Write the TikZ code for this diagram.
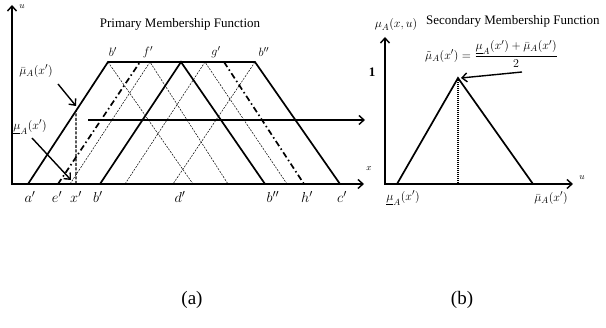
\documentclass[tikz,border=0pt]{standalone}
\usepackage{fontspec}
\setmainfont{Liberation Serif}
\usetikzlibrary{arrows.meta,calc}
\begin{document}
\begin{tikzpicture}[x=1pt,y=-1pt,
  axes/.style={line width=1.4pt,{Straight Barb[length=5pt,width=9pt,line width=1.4pt]}-{Straight Barb[length=5pt,width=9pt,line width=1.4pt]}},
  thk/.style={line width=1.7pt, line join=miter},
  thn/.style={line width=0.5pt, dash pattern=on 2pt off 1.2pt},
  dd/.style={line width=1.7pt, dash pattern=on 6pt off 3pt on 1.5pt off 3pt},
  lbl/.style={font=\fontsize{13}{15}\selectfont, inner sep=1pt},
  blbl/.style={font=\fontsize{15}{17}\selectfont, inner sep=1pt},
  sml/.style={font=\fontsize{9}{10}\selectfont, inner sep=1pt},
  ttl/.style={font=\fontsize{13}{15}\selectfont, inner sep=0pt},
  captxt/.style={font=\fontsize{19}{22}\selectfont, inner sep=0pt},
  ptr/.style={line width=1.4pt,-{Straight Barb[length=5pt,width=9pt,line width=1.4pt]}}]
\useasboundingbox (0,0) rectangle (606,328);
% ---------- left plot ----------
\coordinate (O) at (12,184);
\coordinate (Ytop) at (12,5);
\coordinate (Xend) at (364,184);
\draw[axes] (Ytop) -- (O) -- (Xend);
\node[sml] (ulab) at (22,7) {$u$};
\node[sml] (xlab) at (369,169) {$x$};
\node[ttl] (title1) at (180,24) {Primary Membership Function};
% base points
\coordinate (ap) at (28,184);
\coordinate (ep) at (58,184);
\coordinate (xp) at (76,184);
\coordinate (bp) at (100,184);
\coordinate (bpp) at (265,184);
\coordinate (hp) at (304,184);
\coordinate (cp) at (340,184);
% top points
\coordinate (TL) at (108,62);
\coordinate (F) at (140,62);
\coordinate (P1) at (150,62);
\coordinate (A) at (181,62);
\coordinate (P2) at (205,62);
\coordinate (G) at (224,62);
\coordinate (TR) at (255,62);
% thin dashed triangles
\draw[thn] (TL) -- (193,184);
\draw[thn] (TR) -- (173,184);
\draw[thn] (70,184) -- (P1) -- (228,184);
\draw[thn] (125,184) -- (P2) -- (287,184);
% dash-dot sides
\draw[dd] (ep) -- (F);
\draw[dd] (G) -- (hp);
% thick trapezoid and triangle
\draw[thk] (ap) -- (TL) -- (TR) -- (cp);
\draw[thk] (bp) -- (A) -- (bpp);
% vertical dashed at x'
\coordinate (xtop) at ($(ap)!0.6!(TL)$);
\draw[line width=1.3pt, dash pattern=on 3pt off 1.5pt] (xp) -- (xtop);
% horizontal arrow
\coordinate (hs) at (88,120);
\coordinate (he) at (365,120);
\draw[ptr] (hs) -- (he);
% labels
\node[lbl] (mubar) at (36,71) {$\bar{\mu}_{A}(x')$};
\node[lbl] (mulow) at (30,127) {$\underline{\mu}_{A}(x')$};
\coordinate (mubarA) at (58,84);
\coordinate (mubarB) at (76,106);
\draw[ptr] (mubarA) -- (mubarB);
\coordinate (mulowA) at (32,138);
\coordinate (mulowB) at (71,180);
\draw[ptr] (mulowA) -- (mulowB);
\node[lbl] (lbt) at (113,52) {$b'$};
\node[lbl] (lft) at (148,52) {$f'$};
\node[lbl] (lgt) at (216,52) {$g'$};
\node[lbl] (lbbt) at (264,52) {$b''$};
\node[blbl] (la) at (30,197) {$a'$};
\node[blbl] (le) at (57,197) {$e'$};
\node[blbl] (lx) at (76,197) {$x'$};
\node[blbl] (lb) at (98,197) {$b'$};
\node[blbl] (ld) at (180,197) {$d'$};
\node[blbl] (lbb) at (273,197) {$b''$};
\node[blbl] (lh) at (307,197) {$h'$};
\node[blbl] (lc) at (342,197) {$c'$};
% ---------- right plot ----------
\coordinate (O2) at (385,184);
\coordinate (Y2) at (385,37);
\coordinate (X2) at (573,184);
\draw[axes] (Y2) -- (O2) -- (X2);
\node[sml] (ulab2) at (582,178) {$u$};
\node[lbl] (muxu) at (396,25) {$\mu_{A}(x,u)$};
\node[ttl, anchor=west] (title2) at (426,21) {Secondary Membership Function};
\node[lbl] (one) at (372,72) {\textbf{1}};
\coordinate (L2) at (397,184);
\coordinate (M2) at (458,78);
\coordinate (R2) at (533,184);
\coordinate (M2b) at (458,184);
\draw[line width=1.3pt, dash pattern=on 1pt off 1pt] (M2) -- (M2b);
\draw[thk] (L2) -- (M2) -- (R2);
\coordinate (arrA) at (522,72);
\coordinate (arrB) at (461,78);
\draw[ptr] (arrA) -- (arrB);
\node[lbl, anchor=west, inner sep=0pt] (formula) at (425,54) {$\displaystyle\tilde{\mu}_{A}(x')=\frac{\underline{\mu}_{A}(x')+\bar{\mu}_{A}(x')}{2}$};
\node[lbl] (lowlab) at (403,198) {$\underline{\mu}_{A}(x')$};
\node[lbl] (uplab) at (551,198) {$\bar{\mu}_{A}(x')$};
% captions
\node[captxt] (capa) at (192,300) {(a)};
\node[captxt] (capb) at (462,300) {(b)};
\end{tikzpicture}
\end{document}
